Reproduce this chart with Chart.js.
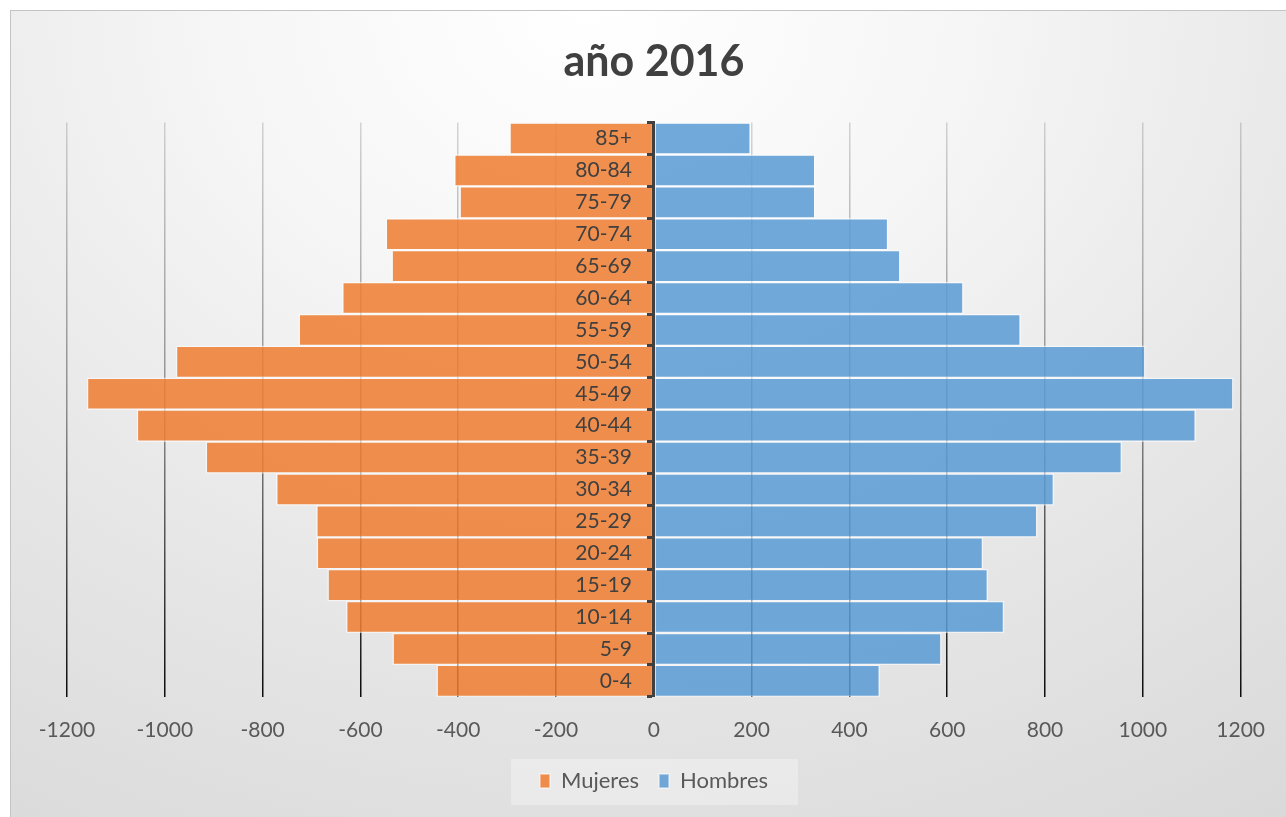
<!DOCTYPE html>
<html lang="es">

<head>
  <meta charset="UTF-8">
  <title>año 2016</title>
  <script src="https://cdn.jsdelivr.net/npm/chart.js@4.4.1/dist/chart.umd.min.js"></script>
  <style>
    html, body { margin: 0; padding: 0; overflow: hidden; background: #ffffff; }
    #frame {
      position: absolute;
      left: 10px;
      top: 10px;
      width: 1290px;
      height: 820px;
      border-left: 1px solid #c4c4c4;
      border-top: 1px solid #c4c4c4;
      background: radial-gradient(ellipse 95% 120% at 45% 0%, #ffffff 0%, #f6f6f6 30%, #e6e6e6 65%, #d9d9d9 100%);
    }
  </style>
</head>

<body>
  <div id="frame">
    <canvas id="chart" width="1275" height="806"></canvas>
  </div>

  <script>
    // age groups, bottom to top
    const groups = ['0-4', '5-9', '10-14', '15-19', '20-24', '25-29', '30-34', '35-39', '40-44',
      '45-49', '50-54', '55-59', '60-64', '65-69', '70-74', '75-79', '80-84', '85+'];
    const mujeres = [-444, -534, -629, -667, -689, -690, -772, -916, -1057,
      -1159, -977, -726, -637, -536, -548, -397, -408, -295];
    const hombres = [462, 588, 716, 683, 673, 784, 818, 957, 1108,
      1185, 1005, 750, 633, 504, 479, 330, 330, 198];
    const xTicks = [-1200, -1000, -800, -600, -400, -200, 0, 200, 400, 600, 800, 1000, 1200];

    const font = 'Lato, "Open Sans", sans-serif';

    // light box behind the legend
    const legendBox = {
      id: 'legendBox',
      beforeDraw(chart) {
        const lg = chart.legend;
        if (!lg || !lg.legendHitBoxes.length) return;
        const boxes = lg.legendHitBoxes;
        const l = Math.min(...boxes.map(b => b.left));
        const r = Math.max(...boxes.map(b => b.left + b.width));
        const cx = (l + r) / 2;
        const cy = lg.top + 31;
        const ctx = chart.ctx;
        ctx.save();
        ctx.fillStyle = 'rgba(255,255,255,0.3)';
        ctx.fillRect(cx - 143, cy - 22, 287, 46);
        ctx.restore();
      }
    };

    function gridColor(context) {
      const chart = context.chart;
      const area = chart.chartArea;
      if (!area) return '#999999';
      const g = chart.ctx.createLinearGradient(0, area.top, 0, area.bottom);
      g.addColorStop(0, 'rgba(0,0,0,0.15)');
      g.addColorStop(0.5, 'rgba(0,0,0,0.4)');
      g.addColorStop(1, 'rgba(0,0,0,0.95)');
      return g;
    }

    drawChart();

    function drawChart() {
      const context = document.getElementById('chart').getContext('2d');
      new Chart(context, {
        type: 'bar',
        data: {
          labels: groups,
          datasets: [
            {
              label: 'Mujeres',
              data: mujeres,
              backgroundColor: 'rgba(237,125,49,0.86)',
              borderColor: 'rgba(255,255,255,0.55)',
              borderWidth: 1.5,
              borderSkipped: false,
              barPercentage: 1,
              categoryPercentage: 1
            },
            {
              label: 'Hombres',
              data: hombres,
              backgroundColor: 'rgba(91,155,213,0.86)',
              borderColor: 'rgba(255,255,255,0.55)',
              borderWidth: 1.5,
              borderSkipped: false,
              barPercentage: 1,
              categoryPercentage: 1
            }
          ]
        },
        options: {
          indexAxis: 'y',
          responsive: false,
          animation: false,
          layout: {
            padding: { left: 56, right: 45, top: 5, bottom: 15 }
          },
          scales: {
            x: {
              type: 'linear',
              stacked: true,
              min: -1200,
              max: 1200,
              afterBuildTicks(scale) {
                scale.ticks = xTicks.map(v => ({ value: v }));
              },
              afterFit(scale) {
                scale.height -= 14;
              },
              grid: {
                color: gridColor,
                lineWidth: 1.5,
                drawTicks: false
              },
              border: { display: false },
              ticks: {
                color: '#595959',
                font: { family: font, size: 21 },
                padding: 21,
                callback: v => String(v)
              }
            },
            // axis line and tick marks at x = 0
            y: {
              type: 'category',
              stacked: true,
              reverse: true,
              position: { x: 0 },
              grid: {
                drawOnChartArea: false,
                drawTicks: true,
                tickLength: 5,
                tickWidth: 3,
                tickColor: '#404040',
                offset: true,
                z: 1
              },
              border: { display: true, color: '#404040', width: 3, z: 1 },
              ticks: { display: false }
            },
            // age labels, just left of the axis
            yLabels: {
              type: 'category',
              labels: groups,
              reverse: true,
              position: { x: -45 },
              grid: { display: false, drawTicks: false },
              border: { display: false },
              ticks: {
                color: '#404040',
                font: { family: font, size: 21 },
                padding: 0,
                z: 1
              }
            }
          },
          plugins: {
            title: {
              display: true,
              text: 'año 2016',
              color: '#404040',
              font: { family: font, size: 43, weight: 'bold' },
              padding: { top: 20, bottom: 35 }
            },
            legend: {
              position: 'bottom',
              labels: {
                color: '#595959',
                font: { family: font, size: 22 },
                boxWidth: 10,
                boxHeight: 14,
                padding: 20
              }
            },
            tooltip: { enabled: false }
          }
        },
        plugins: [legendBox]
      });
    }
  </script>
</body>

</html>
